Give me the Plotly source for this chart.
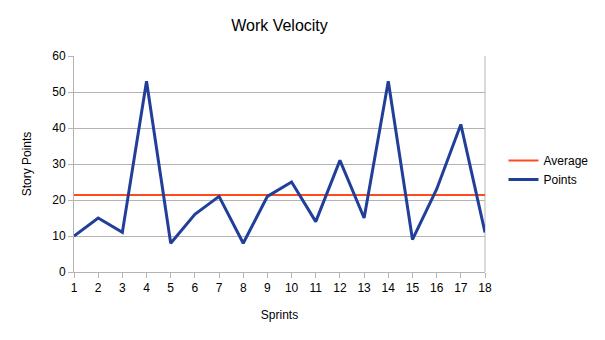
import plotly.graph_objects as go

sprints = list(range(1, 19))
points = [10, 15, 11, 53, 8, 16, 21, 8, 21, 25, 14, 31, 15, 53, 9, 23, 41, 11]
average_value = sum(points) / len(points)
average = [average_value] * len(sprints)

fig = go.Figure()
fig.add_trace(go.Scatter(x=sprints, y=average, mode="lines", name="Average",
                         line=dict(color="#ff4a1c", width=2)))
fig.add_trace(go.Scatter(x=sprints, y=points, mode="lines", name="Points",
                         line=dict(color="#213f99", width=3)))

fig.update_layout(
    width=605, height=340,
    margin=dict(l=74, r=118, t=56, b=68),
    paper_bgcolor="white", plot_bgcolor="white",
    font=dict(family="Liberation Sans, Arial, sans-serif", size=12, color="#000000"),
    title=dict(text="Work Velocity", x=0.5, xanchor="center", y=0.925, yanchor="middle",
               xref="paper", font=dict(size=16)),
    showlegend=True,
    legend=dict(x=1.045, y=0.472, xanchor="left", yanchor="middle",
                font=dict(size=12), tracegroupgap=0, itemwidth=30,
                bgcolor="rgba(0,0,0,0)"),
    xaxis=dict(range=[1, 18], tickmode="array", tickvals=sprints,
               showgrid=False, showline=True, linecolor="#b3b3b3", linewidth=1,
               ticks="outside", ticklen=5, tickcolor="#b3b3b3",
               mirror=False, zeroline=False,
               title=dict(text="Sprints", standoff=16, font=dict(size=12))),
    yaxis=dict(range=[0, 60], tickmode="array", tickvals=[0, 10, 20, 30, 40, 50, 60],
               showgrid=True, gridcolor="#b3b3b3", gridwidth=1,
               showline=True, linecolor="#b3b3b3", linewidth=1,
               ticks="outside", ticklen=5, tickcolor="#b3b3b3",
               zeroline=False,
               title=dict(text="Story Points", standoff=18, font=dict(size=12))),
)
fig.add_shape(type="line", xref="paper", yref="paper", x0=1, x1=1, y0=0, y1=1,
              line=dict(color="#b3b3b3", width=1), layer="below")

fig.write_html("out.html")
